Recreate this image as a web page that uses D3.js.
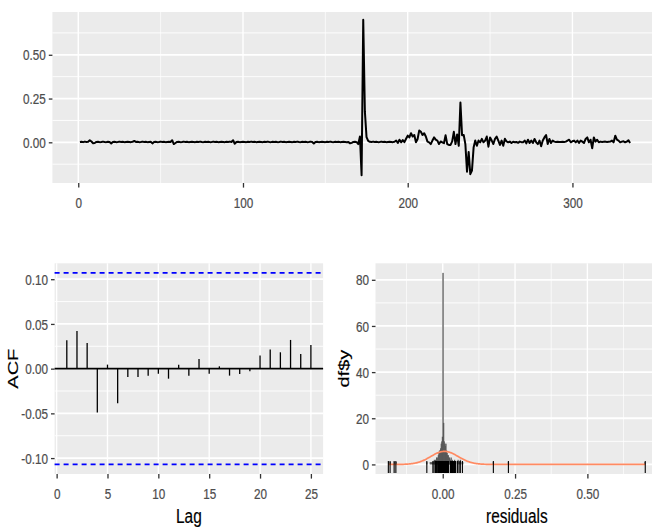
<!DOCTYPE html>
<html><head><meta charset="utf-8">
<script src="https://cdn.jsdelivr.net/npm/d3@7"></script>
<style>
body{margin:0;background:#fff}
svg{display:block}
text{font-family:"Liberation Sans",Arial,Helvetica,sans-serif}
</style>
</head><body>
<svg id="c" width="652" height="527"></svg>
<script>
// ---------------- data ----------------
const residuals = [
 0.002,0.003,0.001,0.004,0.002,0.003,0.012,0.005,-0.005,-0.004,
 0.002,0.003,0.001,0.002,0.004,0.002,0.001,0.003,0.002,-0.006,
 0.002,0.003,0.001,0.002,0.004,0.002,0.003,0.001,0.002,0.003,
 0.002,0.001,0.003,0.008,0.002,0.003,0.001,0.002,0.004,0.002,
 0.003,0.001,0.002,0.003,-0.006,0.002,0.003,0.001,0.002,0.004,
 0.002,0.003,0.001,0.002,0.003,0.002,0.012,-0.010,-0.004,0.002,
 0.003,0.001,0.002,0.004,0.002,0.003,0.001,0.002,0.003,0.002,
 0.001,0.003,0.002,0.004,0.002,0.001,0.003,0.002,0.003,0.001,
 0.002,0.004,0.002,0.003,0.001,0.002,0.003,0.002,0.001,0.003,
 0.002,0.004,0.002,0.012,-0.008,0.002,0.003,0.001,0.002,0.003,
 0.002,0.001,0.003,0.002,0.004,0.002,0.003,0.001,0.002,0.003,
 0.002,0.001,0.003,0.002,0.004,0.002,0.001,0.003,0.002,0.003,
 0.001,0.002,0.004,0.002,0.003,0.001,0.002,0.003,0.002,0.001,
 0.003,0.002,0.004,0.002,0.001,0.003,0.002,0.003,0.001,0.002,
 0.004,0.002,-0.007,0.002,0.003,0.001,0.002,0.003,0.002,0.001,
 0.003,0.002,0.004,0.002,0.001,0.003,0.002,0.003,0.001,0.002,
 0.003,0.002,0.001,0.002,-0.006,-0.003,0.002,0.003,0.001,-0.010,
 0.033,-0.188,0.700,0.175,0.030,0.008,0.003,0.002,0.004,0.002,
 0.003,0.001,0.002,0.004,0.002,0.003,0.001,0.002,0.003,0.002,
 0.001,0.003,0.010,-0.004,0.015,0.000,0.013,0.001,0.020,0.038,
 0.028,0.052,0.033,0.042,0.000,0.019,0.068,0.060,0.042,0.052,
 0.033,0.004,0.000,-0.010,0.010,0.028,0.015,0.010,-0.010,0.005,
 0.000,-0.005,0.040,-0.010,-0.015,-0.015,0.005,0.060,-0.010,0.045,
 -0.020,0.227,0.040,0.042,-0.010,-0.168,-0.055,-0.182,-0.162,-0.030,
 0.010,-0.020,0.010,0.000,0.020,0.000,0.010,0.033,-0.025,0.028,
 0.010,-0.010,0.020,0.033,0.010,-0.015,0.010,-0.020,0.020,0.005,
 0.000,0.004,-0.004,0.003,0.000,0.002,-0.003,0.004,0.001,0.000,
 0.010,-0.006,0.015,-0.004,0.010,-0.004,0.019,0.000,-0.010,0.010,
 -0.023,0.010,0.028,0.042,-0.010,0.019,-0.004,0.010,0.004,0.002,
 0.003,0.002,0.002,0.003,0.002,0.004,0.010,0.015,0.000,0.006,
 0.010,0.000,0.010,-0.004,0.010,0.004,-0.004,0.019,0.028,0.000,
 0.015,-0.034,0.028,0.004,0.015,0.000,0.004,0.002,0.003,0.004,
 0.002,0.003,0.004,0.010,0.000,0.038,0.015,0.010,0.000,0.004,
 0.006,0.000,0.004,0.012,-0.004
];

const acfLags = [1,2,3,4,5,6,7,8,9,10,11,12,13,14,15,16,17,18,19,20,21,22,23,24,25];
const acfValues = [0.0317,0.0422,0.0287,-0.0489,0.0045,-0.0388,-0.0093,-0.0093,-0.0078,-0.0056,
  -0.0112,0.0045,-0.0078,0.0108,-0.0056,0.0026,-0.0078,-0.0060,-0.0030,0.0146,
  0.0213,0.0183,0.0321,0.0164,0.0265];

const histBinWidth = 0.002;
const histStart = [-0.188,-0.182,-0.168,-0.162,-0.056,-0.044,-0.040,-0.036,-0.034,-0.030,
  -0.028,-0.026,-0.024,-0.022,-0.020,-0.018,-0.016,-0.014,-0.012,-0.010,
  -0.008,-0.006,-0.004,-0.002,0.000,0.002,0.004,0.006,0.008,0.010,
  0.012,0.014,0.016,0.018,0.020,0.022,0.024,0.026,0.028,0.030,
  0.032,0.036,0.040,0.042,0.050,0.052,0.058,0.060,0.066,0.068,
  0.174,0.226,0.698];
const histCount = [1,1,1,1,1,1,1,1,1,2,
  1,2,2,3,3,2,4,5,6,6,
  7,9,10,12,83,18,10,9,8,9,
  6,5,4,4,3,3,2,2,3,1,
  2,1,2,1,1,2,1,2,1,1,
  1,1,1];

const tsXTicks = [0,100,200,300];
const tsYTicks = [0,0.25,0.5];
const acfXTicks = [0,5,10,15,20,25];
const acfYTicks = [-0.1,-0.05,0,0.05,0.1];
const histXTicks = [0,0.25,0.5];
const histYTicks = [0,20,40,60,80];

const acfXLabel = "Lag", acfYLabel = "ACF";
const histXLabel = "residuals", histYLabel = "df$y";

// ---------------- layout / style ----------------
const SX = 0.77;              // horizontal squeeze of the original rendering
const TICK_FS = 15.2, TITLE_FS = 20;
const BG = "#EBEBEB";
const P_TS   = {l:52.4, r:657.6, t:12,    b:183};
const P_ACF  = {l:54.6, r:323.1, t:263.3, b:474};
const P_HIST = {l:375.5, r:658.1, t:263.3, b:474};

const svg = d3.select("#c");
svg.append("rect").attr("width",652).attr("height",527).attr("fill","#fff");

const expand = ([a,b]) => [a-(b-a)*0.05, b+(b-a)*0.05];
const fmt2 = d => (Math.abs(d) < 1e-12 ? 0 : d).toFixed(2);

function minorsOf(ticks, dom) {
  const step = ticks[1]-ticks[0];
  const out = [];
  for (let v = ticks[0]-step/2; v <= dom[1]; v += step) if (v >= dom[0]) out.push(v);
  return out;
}

function panel(p, x, y, xT, yT, opts) {
  const g = svg.append("g");
  g.append("rect").attr("x",p.l).attr("y",p.t).attr("width",p.r-p.l).attr("height",p.b-p.t).attr("fill",BG);
  const yd = y.domain(), xd = x.domain();
  g.selectAll(null).data(minorsOf(yT, yd)).join("line")
    .attr("x1",p.l).attr("x2",p.r).attr("y1",d=>y(d)).attr("y2",d=>y(d))
    .attr("stroke","#fff").attr("stroke-width",0.9);
  if (opts.xMinor) g.selectAll(null).data(minorsOf(xT, xd)).join("line")
    .attr("y1",p.t).attr("y2",p.b).attr("x1",d=>x(d)).attr("x2",d=>x(d))
    .attr("stroke","#fff").attr("stroke-width",0.7);
  g.selectAll(null).data(yT).join("line")
    .attr("x1",p.l).attr("x2",p.r).attr("y1",d=>y(d)).attr("y2",d=>y(d))
    .attr("stroke","#fff").attr("stroke-width",1.8);
  g.selectAll(null).data(xT).join("line")
    .attr("y1",p.t).attr("y2",p.b).attr("x1",d=>x(d)).attr("x2",d=>x(d))
    .attr("stroke","#fff").attr("stroke-width",1.4);

  const ax = svg.append("g").attr("transform",`translate(0,${p.b})`)
    .call(d3.axisBottom(x).tickValues(xT).tickSize(4.6).tickFormat(opts.xFmt));
  const ay = svg.append("g").attr("transform",`translate(${p.l},0)`)
    .call(d3.axisLeft(y).tickValues(yT).tickSize(3.6).tickFormat(opts.yFmt));
  [ax, ay].forEach(a => {
    a.select(".domain").remove();
    a.selectAll(".tick line").attr("stroke","#333333").attr("stroke-width",1.3);
    a.selectAll(".tick text").attr("fill","#4D4D4D").attr("font-size",TICK_FS)
      .attr("font-family",'"Liberation Sans",Arial,sans-serif')
      .attr("stroke","#4D4D4D").attr("stroke-width",0.25);
  });
  ax.selectAll(".tick text").attr("y",14.6).attr("transform",`scale(${SX},1)`);
  ay.selectAll(".tick text").attr("x",-6.6/SX).attr("dy","0.34em").attr("transform",`scale(${SX},1)`);
  return g;
}

function title(txt, x, y, rotate) {
  svg.append("text")
    .attr("transform", `translate(${x},${y}) scale(${SX},1)` + (rotate ? " rotate(-90)" : ""))
    .attr("text-anchor","middle").attr("font-size",TITLE_FS).attr("fill","#000")
    .attr("stroke","#000").attr("stroke-width",0.2).text(txt);
}

// ---------------- top: residual time series ----------------
const n = residuals.length;
const tIdx = d3.range(1, n+1);
const tsX = d3.scaleLinear().domain(expand([1,n])).range([P_TS.l, P_TS.r]);
const tsY = d3.scaleLinear().domain(expand(d3.extent(residuals))).range([P_TS.b, P_TS.t]);
const gTs = panel(P_TS, tsX, tsY, tsXTicks, tsYTicks, {xMinor:true, xFmt:d3.format("d"), yFmt:fmt2});
gTs.append("path").datum(residuals)
  .attr("fill","none").attr("stroke","#000").attr("stroke-width",2.0).attr("stroke-linejoin","round")
  .attr("d", d3.line().x((d,i)=>tsX(tIdx[i])).y(d=>tsY(d)));

// ---------------- bottom-left: ACF ----------------
const ci = 1.96/Math.sqrt(n);
const acfX = d3.scaleLinear().domain(expand(d3.extent(acfLags))).range([P_ACF.l, P_ACF.r]);
const acfY = d3.scaleLinear().domain(expand([-ci, ci])).range([P_ACF.b, P_ACF.t]);
const gAcf = panel(P_ACF, acfX, acfY, acfXTicks, acfYTicks, {xMinor:false, xFmt:d3.format("d"), yFmt:fmt2});
gAcf.append("line").attr("x1",P_ACF.l).attr("x2",P_ACF.r).attr("y1",acfY(0)).attr("y2",acfY(0))
  .attr("stroke","#000").attr("stroke-width",1.7);
gAcf.selectAll(null).data(acfValues).join("line")
  .attr("x1",(d,i)=>acfX(acfLags[i])).attr("x2",(d,i)=>acfX(acfLags[i]))
  .attr("y1",acfY(0)).attr("y2",d=>acfY(d))
  .attr("stroke","#000").attr("stroke-width",1.3);
gAcf.selectAll(null).data([ci,-ci]).join("line")
  .attr("x1",P_ACF.l).attr("x2",P_ACF.r).attr("y1",d=>acfY(d)).attr("y2",d=>acfY(d))
  .attr("stroke","#0000FF").attr("stroke-width",1.6).attr("stroke-dasharray","5 4");
title(acfXLabel, (P_ACF.l+P_ACF.r)/2, 523);
title(acfYLabel, 17.5, (P_ACF.t+P_ACF.b)/2, true);

// ---------------- bottom-right: histogram ----------------
const hX = d3.scaleLinear().domain(expand(d3.extent(residuals))).range([P_HIST.l, P_HIST.r]);
const hY = d3.scaleLinear().domain(expand([0, d3.max(histCount)])).range([P_HIST.b, P_HIST.t]);
const gH = panel(P_HIST, hX, hY, histXTicks, histYTicks, {xMinor:true, xFmt:fmt2, yFmt:d3.format("d")});
gH.selectAll(null).data(histCount).join("rect")
  .attr("x",(d,i)=>hX(histStart[i]) - 0.35)
  .attr("width",(d,i)=>Math.max(1.3, hX(histStart[i]+histBinWidth)-hX(histStart[i])))
  .attr("y",d=>hY(d)).attr("height",d=>hY(0)-hY(d))
  .attr("fill","#595959");
const mu = d3.mean(residuals), sd = d3.deviation(residuals);
const gx0 = Math.min(d3.min(residuals), mu-3*sd), gx1 = Math.max(d3.max(residuals), mu+3*sd);
const grid = d3.range(512).map(i => gx0 + (gx1-gx0)*i/511);
const dens = grid.map(v => n*histBinWidth*Math.exp(-0.5*((v-mu)/sd)**2)/(sd*Math.sqrt(2*Math.PI)));
gH.append("path").datum(grid)
  .attr("fill","none").attr("stroke","#ff8a62").attr("stroke-width",1.7)
  .attr("d", d3.line().x(d=>hX(d)).y((d,i)=>hY(dens[i])));
gH.selectAll(null).data(residuals).join("line")
  .attr("x1",d=>hX(d)).attr("x2",d=>hX(d))
  .attr("y1",P_HIST.b-1).attr("y2",P_HIST.b-13)
  .attr("stroke","#000").attr("stroke-width",1.1);
title(histXLabel, (P_HIST.l+P_HIST.r)/2, 523);
title(histYLabel, 349, (P_HIST.t+P_HIST.b)/2, true);
</script>
</body></html>
